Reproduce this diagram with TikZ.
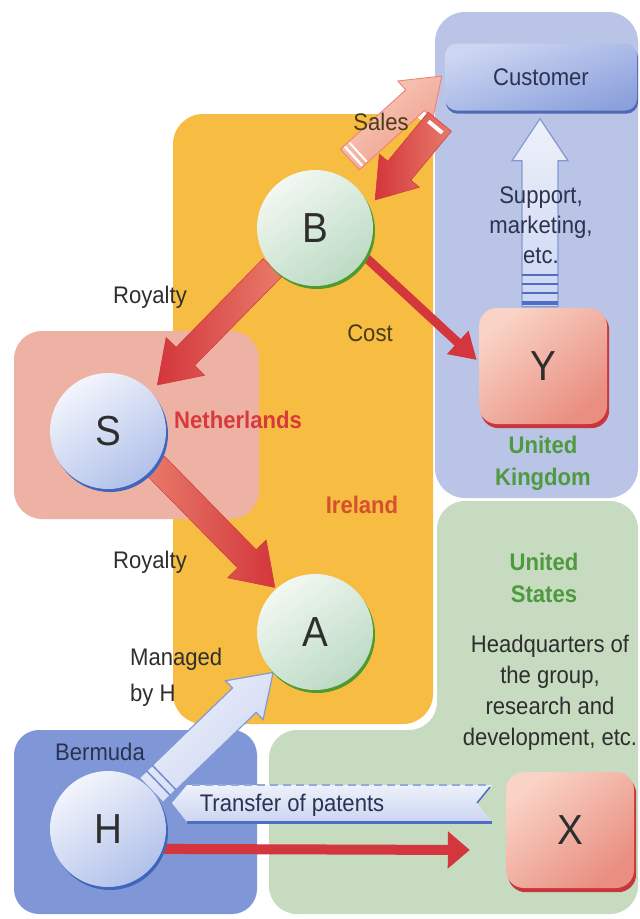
\documentclass[tikz,border=0pt]{standalone}
\usepackage{fontspec}
\setmainfont{Liberation Sans}[FakeStretch=0.92]
\usetikzlibrary{calc,arrows.meta}
\pgfdeclarelayer{bg}
\pgfdeclarelayer{arr}
\pgfdeclarelayer{rim}
\pgfsetlayers{bg,arr,rim,main}

\definecolor{ireland}{HTML}{F6BD42}
\definecolor{ukc}{HTML}{BAC4E7}
\definecolor{nlc}{HTML}{EDB2A4}
\definecolor{usc}{HTML}{C7DBC0}
\definecolor{bmc}{HTML}{7F97D6}
\definecolor{txt}{HTML}{2E2E2E}
\definecolor{navytxt}{HTML}{2A3350}
\definecolor{olivetxt}{HTML}{4A3C12}
\definecolor{redlab}{HTML}{D83A3C}
\definecolor{irelab}{HTML}{D5512E}
\definecolor{greenlab}{HTML}{4E9A3E}
\definecolor{rimgreen}{HTML}{4E9A2E}
\definecolor{rimblue}{HTML}{3F66BC}
\definecolor{rimred}{HTML}{C8363C}
\definecolor{rimcust}{HTML}{4D6BB5}
\definecolor{greenlight}{HTML}{F2F8F2}
\definecolor{greendark}{HTML}{BCDAC4}
\definecolor{bluelight}{HTML}{F3F5FC}
\definecolor{bluedark}{HTML}{B1C1EA}
\definecolor{salmonlight}{HTML}{F9D3C5}
\definecolor{salmondark}{HTML}{E98E80}
\definecolor{custlight}{HTML}{CDD6F2}
\definecolor{custdark}{HTML}{8DA2DD}
\definecolor{redA}{HTML}{D3363C}
\definecolor{redB}{HTML}{E87B69}
\definecolor{pinkA}{HTML}{F8CDBF}
\definecolor{pinkB}{HTML}{EE9C88}
\definecolor{lightarr}{HTML}{EEF1FA}
\definecolor{lightarr2}{HTML}{CCD6F2}
\definecolor{arrline}{HTML}{4D6EC2}

\newcommand\myfatarrow[6]{%
  \coordinate (fab) at ($(#2)!#5!(#1)$);
  \path[#6] ($(#1)!#3!90:(#2)$) -- ($(fab)!#3!90:(#2)$) -- ($(fab)!#4!90:(#2)$) -- (#2)
    -- ($(fab)!#4!-90:(#2)$) -- ($(fab)!#3!-90:(#2)$) -- ($(#1)!#3!-90:(#2)$) -- cycle;}
\newcommand\mystripe[5]{%
  \coordinate (stp) at ($(#1)!#3!(#2)$);
  \draw[#5] ($(stp)!#4!90:(#2)$) -- ($(stp)!#4!-90:(#2)$);}

\begin{document}
\begin{tikzpicture}[x=1pt,y=-1pt,
  lab/.style={font=\fontsize{24}{30}\selectfont, text=txt, inner sep=0pt},
  blab/.style={font=\bfseries\fontsize{24}{32}\selectfont, inner sep=0pt, align=center},
  ball/.style={circle, minimum size=116pt, inner sep=0pt, font=\fontsize{42}{42}\selectfont, text=txt},
  gball/.style={ball, top color=greenlight, bottom color=greendark, shading angle=35},
  bball/.style={ball, top color=bluelight, bottom color=bluedark, shading angle=35},
  sbox/.style={rectangle, rounded corners=18pt, minimum width=128pt, minimum height=116pt, inner sep=0pt,
    top color=salmonlight, bottom color=salmondark, shading angle=40, font=\fontsize{42}{42}\selectfont, text=txt},
  custbox/.style={rectangle, rounded corners=12pt, minimum width=192pt, minimum height=67pt, inner sep=0pt,
    top color=custlight, bottom color=custdark, shading angle=20, font=\fontsize{24}{30}\selectfont, text=navytxt},
  thinred/.style={draw=redA, line width=9pt},
  lightfat/.style={top color=lightarr, bottom color=lightarr2, draw=arrline!70, line width=1.2pt},
]
\useasboundingbox (0,0) rectangle (640,919);

% regions
\begin{pgfonlayer}{bg}
\fill[ireland, rounded corners=30pt] (173,114) rectangle (433,724);
\fill[nlc, rounded corners=28pt] (14,331) rectangle (259,519);
\fill[ukc, rounded corners=30pt] (435,12) rectangle (638,498);
\fill[usc, rounded corners=28pt] (269,914) -- (269,730) -- (437,730) -- (437,501) -- (638,501) -- (638,914) -- cycle;
\fill[bmc, rounded corners=25pt] (14,730) rectangle (257,914);
\end{pgfonlayer}

% nodes
\node[gball] (B) at (315,228) {B};
\node[bball] (S) at (108,431) {S};
\node[gball] (A) at (315,632) {A};
\node[bball] (H) at (108,829) {H};
\node[sbox] (Y) at (543,366) {Y};
\node[sbox] (X) at (570,830) {X};
\node[custbox] (C) at (541,77) {Customer};

% rims
\begin{pgfonlayer}{rim}
\fill[rimgreen] ($(B.center)+(2,3)$) circle (58pt);
\fill[rimgreen] ($(A.center)+(2,3)$) circle (58pt);
\fill[rimblue] ($(S.center)+(2,3)$) circle (58pt);
\fill[rimblue] ($(H.center)+(2,3)$) circle (58pt);
\fill[rimred, rounded corners=18pt] ($(Y.south west)+(2,4)$) rectangle ($(Y.north east)+(2,4)$);
\fill[rimred, rounded corners=18pt] ($(X.south west)+(2,4)$) rectangle ($(X.north east)+(2,4)$);
\fill[rimcust, rounded corners=12pt] ($(C.south west)+(1,3)$) rectangle ($(C.north east)+(1,3)$);
\end{pgfonlayer}

% arrows
\begin{pgfonlayer}{arr}
\coordinate (bs-t) at (B.223);
\coordinate (bs-p) at ($(S.center)!1.16!(S.43)$);
\coordinate (sa-t) at (S.324);
\coordinate (sa-p) at ($(A.center)!1.03!(A.132)$);
\coordinate (cb-t) at ($(C.south west)+(-5,11)$);
\coordinate (cb-p) at ($(B.center)!1.14!(B.25)$);
\coordinate (sl-t) at ($(B.center)!1.32!(B.63)$);
\coordinate (sl-p) at ($(C.west)+(-3,-1)$);
\coordinate (sp-t) at ($(Y.north)+(-3,-1)$);
\coordinate (sp-p) at ($(C.south)+(-1,8)$);
\coordinate (mh-t) at (H.42);
\coordinate (mh-p) at (A.224);

% Sales (pink)
\myfatarrow{sl-t}{sl-p}{14pt}{26pt}{36pt}{top color=pinkA, bottom color=pinkB, shading angle=40, draw=pinkB!80!red, line width=0.8pt}
\mystripe{sl-t}{sl-p}{5pt}{13pt}{white, line width=2.5pt}
\mystripe{sl-t}{sl-p}{11pt}{13pt}{white, line width=2pt}
% Customer -> B
\myfatarrow{cb-t}{cb-p}{15pt}{26pt}{38pt}{left color=redA, right color=redB, draw=redA, line width=0.5pt}
\mystripe{cb-t}{cb-p}{7pt}{9pt}{white, line width=4pt}
% B -> S royalty
\myfatarrow{bs-t}{bs-p}{13pt}{27pt}{40pt}{left color=redA, right color=redB, draw=redA, line width=0.5pt}
% S -> A royalty
\myfatarrow{sa-t}{sa-p}{13pt}{27pt}{40pt}{left color=redB, right color=redA, draw=redA, line width=0.5pt}
% B -> Y cost
\draw[thinred, -{Triangle[length=26pt,width=30pt]}] (B.330) -- ($(Y.west)+(-2,-6)$);
% support
\myfatarrow{sp-t}{sp-p}{18pt}{28pt}{42pt}{lightfat}
\foreach \d/\w in {4pt/4pt,14pt/2pt,23pt/2pt,32pt/2pt}{\mystripe{sp-t}{sp-p}{\d}{18pt}{arrline, line width=\w}}
% managed by H
\myfatarrow{mh-t}{mh-p}{17pt}{27pt}{40pt}{lightfat, shading angle=45}
\mystripe{mh-t}{mh-p}{10pt}{17pt}{arrline!80, line width=1.5pt}
\mystripe{mh-t}{mh-p}{18pt}{17pt}{arrline!80, line width=1.5pt}
% transfer of patents banner
\path[top color=lightarr, bottom color=lightarr2] (187,785) -- (492,785) -- (477,803) -- (492,822) -- (187,822) -- (172,803) -- cycle;
\draw[arrline, line width=3pt] (187,822) -- (492,822);
\draw[arrline!60, line width=2pt, dash pattern=on 8pt off 5pt] (192,785) -- (490,785);
\draw[arrline, line width=1.5pt] (490,787) -- (477,803);
% H -> X
\draw[draw=redA, line width=10pt, -{Triangle[length=22pt,width=36pt]}] (H.-20) -- ($(X.west)+(-36,20)$);
\end{pgfonlayer}

% labels
\node[lab, text=olivetxt] (sales) at (381,122) {Sales};
\node[lab, text=olivetxt] (cost) at (370,333) {Cost};
\node[lab] (royalty1) at (150,297) {Royalty};
\node[lab] (royalty2) at (150,562) {Royalty};
\node[blab, text=redlab] (nl) at (238,420) {Netherlands};
\node[blab, text=irelab] (ie) at (362,505) {Ireland};
\node[blab, text=greenlab] (uk) at (543,463) {United\\Kingdom};
\node[blab, text=greenlab] (us) at (544,578) {United\\States};
\node[lab, align=center, font=\fontsize{24}{31}\selectfont] (hq) at (550,693) {Headquarters of\\the group,\\research and\\development, etc.};
\node[lab, align=center, text=navytxt] (support) at (541,225) {Support,\\marketing,\\etc.};
\node[lab, align=left, anchor=west] (managed) at (130,677) {Managed\\[6pt]by H};
\node[lab, text=navytxt] (bermuda) at (100,752) {Bermuda};
\node[lab, text=navytxt] (patents) at (292,805) {Transfer of patents};
\end{tikzpicture}
\end{document}
